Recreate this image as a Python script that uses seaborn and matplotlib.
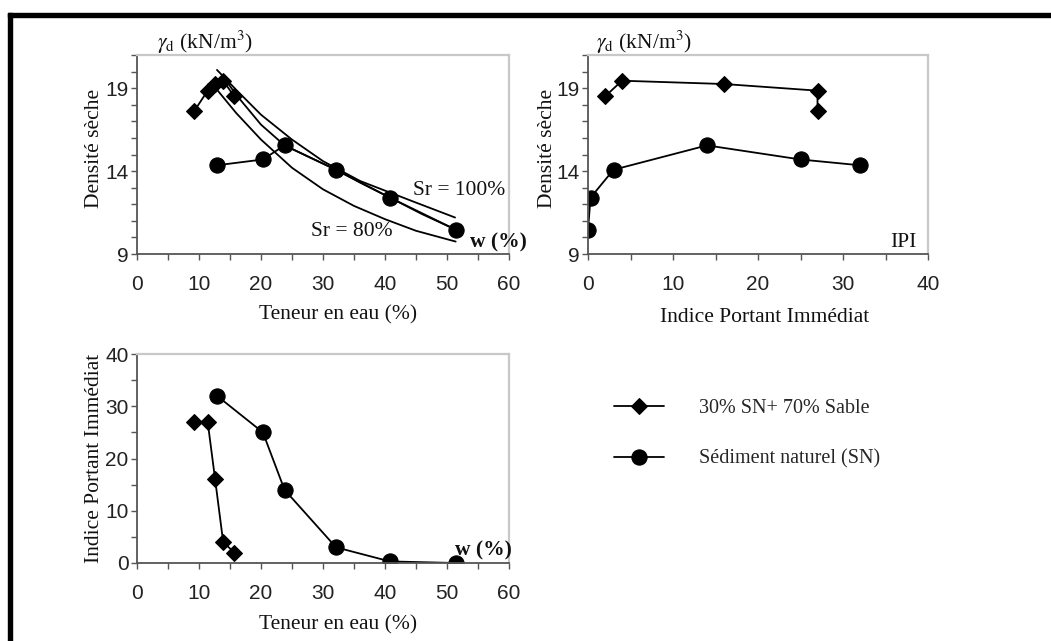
import matplotlib
matplotlib.use('Agg')
import matplotlib.pyplot as plt
import seaborn as sns
from matplotlib.ticker import MultipleLocator
from matplotlib.patches import Rectangle

# 30% SN + 70% sable (losanges)
w_mix = [9.2, 11.4, 12.6, 13.9, 15.7]
gd_mix = [17.6, 18.85, 19.25, 19.45, 18.5]
ipi_mix = [27, 27, 16, 4, 2]

# Sediment naturel (cercles)
w_sn = [12.9, 20.3, 23.8, 32.1, 40.8, 51.5]
gd_sn = [14.35, 14.7, 15.55, 14.08, 12.4, 10.45]
ipi_sn = [32, 25, 14, 3, 0.3, 0]

# courbes de saturation
w_sr100 = [12.9, 16, 20, 25, 30, 36, 45, 51.3]
gd_sr100 = [20.1, 18.9, 17.4, 15.9, 14.6, 13.4, 12.1, 11.2]
w_mid = [13.7, 16, 20, 23.8, 28, 32.1, 36, 40.8, 46, 51.5]
gd_mid = [19.8, 18.6, 16.8, 15.55, 14.8, 14.08, 13.3, 12.4, 11.4, 10.45]
w_sr80 = [12.7, 16, 20, 25, 30, 35, 40, 45, 51.4]
gd_sr80 = [19.0, 17.5, 15.9, 14.2, 12.9, 11.9, 11.1, 10.4, 9.75]

lab_mix = '30% SN+ 70% Sable'
lab_sn = 'Sédiment naturel (SN)'

sns.set_theme(style='white')
plt.rcParams['font.family'] = ['Liberation Serif', 'DejaVu Serif']
plt.rcParams['mathtext.fontset'] = 'stix'

W, H = 1051, 641
fig = plt.figure(figsize=(W / 100, H / 100), dpi=100)
fig.patch.set_facecolor('white')


def px(x, y):
    return x / W, 1 - y / H


def axes_px(x0, x1, y0, y1):
    return fig.add_axes([x0 / W, 1 - y1 / H, (x1 - x0) / W, (y1 - y0) / H])


ax1 = axes_px(137, 509, 55, 254)
ax2 = axes_px(588, 928, 55, 254)
ax3 = axes_px(137, 509, 354, 563)

mix_kw = dict(color='black', marker='D', markersize=8, markeredgecolor='black',
              linewidth=1.3, sort=False, estimator=None)
sn_kw = dict(color='black', marker='o', markersize=11, markeredgecolor='black',
             linewidth=1.3, sort=False, estimator=None)
sat_kw = dict(color='black', linewidth=1.3, sort=False, estimator=None)

# haut gauche
sns.lineplot(x=w_sr100, y=gd_sr100, ax=ax1, **sat_kw)
sns.lineplot(x=w_mid, y=gd_mid, ax=ax1, **sat_kw)
sns.lineplot(x=w_sr80, y=gd_sr80, ax=ax1, **sat_kw)
sns.lineplot(x=w_mix, y=gd_mix, ax=ax1, **mix_kw)
sns.lineplot(x=w_sn, y=gd_sn, ax=ax1, **sn_kw)

# haut droite
sns.lineplot(x=ipi_mix, y=gd_mix, ax=ax2, **mix_kw)
sns.lineplot(x=ipi_sn, y=gd_sn, ax=ax2, **sn_kw)

# bas gauche
sns.lineplot(x=w_mix, y=ipi_mix, ax=ax3, label=lab_mix, **mix_kw)
sns.lineplot(x=w_sn, y=ipi_sn, ax=ax3, label=lab_sn, **sn_kw)
handles, labels = ax3.get_legend_handles_labels()
ax3.get_legend().remove()

for ax, xmax, ymin, ymax, ymaj, ymin_step in [(ax1, 60, 9, 21, 5, 1),
                                               (ax2, 40, 9, 21, 5, 1),
                                               (ax3, 60, 0, 40, 10, 5)]:
    ax.set_xlim(0, xmax)
    ax.set_ylim(ymin, ymax)
    ax.xaxis.set_major_locator(MultipleLocator(10))
    ax.xaxis.set_minor_locator(MultipleLocator(5))
    if ax is ax3:
        ax.yaxis.set_major_locator(MultipleLocator(ymaj))
    else:
        ax.set_yticks([9, 14, 19])
    ax.yaxis.set_minor_locator(MultipleLocator(ymin_step))
    ax.set_facecolor('white')
    for s in ['left', 'bottom']:
        ax.spines[s].set_color('#555555')
        ax.spines[s].set_linewidth(1.3)
    for s in ['top', 'right']:
        ax.spines[s].set_color('#c8c8c8')
        ax.spines[s].set_linewidth(1.6)
    ax.tick_params(which='both', direction='out', color='#555555', width=1,
                   bottom=True, left=True)
    ax.tick_params(which='major', length=4)
    ax.tick_params(which='minor', length=4)
    ax.tick_params(axis='x', which='major', pad=11)
    ax.tick_params(axis='y', which='major', pad=2)
    for t in ax.get_xticklabels() + ax.get_yticklabels():
        t.set_family(['Liberation Sans', 'DejaVu Sans'])
        t.set_fontsize(15)
        t.set_color('#222222')

lab_kw = dict(fontsize=15.5, color='#111111')
ax1.set_xlabel('Teneur en eau (%)', **lab_kw)
ax1.set_ylabel('Densité sèche', **lab_kw)
ax1.xaxis.set_label_coords(0.54, -0.255)
ax1.yaxis.set_label_coords(-0.089, 0.53)

ax2.set_xlabel('Indice Portant Immédiat', **lab_kw)
ax2.set_ylabel('Densité sèche', **lab_kw)
ax2.xaxis.set_label_coords(0.52, -0.27)
ax2.yaxis.set_label_coords(-0.091, 0.53)

ax3.set_xlabel('Teneur en eau (%)', **lab_kw)
ax3.set_ylabel('Indice Portant Immédiat', **lab_kw)
ax3.xaxis.set_label_coords(0.54, -0.25)
ax3.yaxis.set_label_coords(-0.089, 0.5)

txt_kw = dict(fontsize=15.5, color='#111111', va='center')
fig.text(*px(157, 42), r'$\gamma_{\rm d}$ (kN/m$^{3}$)', ha='left', **txt_kw)
fig.text(*px(596, 42), r'$\gamma_{\rm d}$ (kN/m$^{3}$)', ha='left', **txt_kw)
fig.text(*px(413, 190), 'Sr = 100%', ha='left', **txt_kw)
fig.text(*px(311, 232), 'Sr = 80%', ha='left', **txt_kw)
fig.text(*px(470, 242), 'w (%)', ha='left', fontweight='bold', **txt_kw)
fig.text(*px(917, 242), 'IPI', ha='right', **txt_kw)
fig.text(*px(455, 550), 'w (%)', ha='left', fontweight='bold', **txt_kw)

fig.legend(handles, labels, loc='upper left', bbox_to_anchor=px(614, 399),
           frameon=False, fontsize=14.5, handlelength=2.5, handletextpad=1.7,
           labelspacing=1.55, borderpad=0, borderaxespad=0)

# cadre noir (haut et gauche)
fig.add_artist(Rectangle(px(8, 641), 4 / W, (641 - 13) / H,
                         transform=fig.transFigure, color='black'))
fig.add_artist(Rectangle(px(8, 17), 1 - 8 / W, 4 / H,
                         transform=fig.transFigure, color='black'))

fig.savefig('out.png', dpi=100, facecolor='white')
